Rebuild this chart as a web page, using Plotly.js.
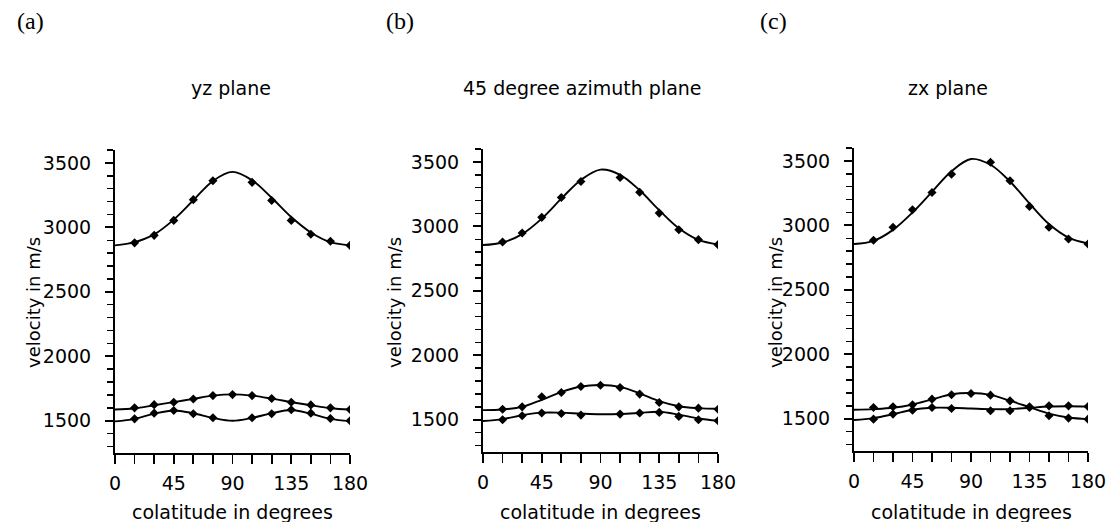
<!DOCTYPE html>
<html>
<head>
<meta charset="utf-8">
<script src="https://cdn.plot.ly/plotly-3.0.1.min.js"></script>
<style>html,body{margin:0;padding:0;background:#fff;}#chart{width:1111px;height:522px;}</style>
</head>
<body>
<div id="chart"></div>
<script>
// colatitude in degrees
const colatitude = [0, 15, 30, 45, 60, 75, 90, 105, 120, 135, 150, 165, 180];

// Panel (a) yz plane: model curves and measured points (m/s)
const a_qP_curve  = [2860, 2885, 2945, 3060, 3210, 3360, 3430, 3365, 3230, 3080, 2960, 2885, 2860];
const a_qP_pts    = [null, 2880, 2938, 3054, 3215, 3361, null, 3349, 3208, 3054, 2946, 2892, 2860];
const a_S1_curve  = [1587, 1595, 1620, 1645, 1670, 1695, 1705, 1695, 1672, 1645, 1620, 1597, 1587];
const a_S1_pts    = [null, 1600, 1625, 1644, 1669, 1695, 1703, 1695, 1673, 1644, 1623, 1600, 1587];
const a_S2_curve  = [1495, 1515, 1555, 1580, 1558, 1522, 1500, 1522, 1558, 1583, 1555, 1515, 1497];
const a_S2_pts    = [null, 1515, 1559, 1580, 1554, 1523, null, 1523, 1554, 1585, 1559, 1518, 1500];

// Panel (b) 45 degree azimuth plane
const b_qP_curve  = [2855, 2875, 2940, 3060, 3215, 3360, 3440, 3400, 3280, 3125, 2985, 2895, 2860];
const b_qP_pts    = [null, 2879, 2948, 3070, 3224, 3348, null, 3379, 3265, 3103, 2974, 2897, 2858];
const b_S1_curve  = [1575, 1580, 1600, 1655, 1715, 1758, 1770, 1755, 1705, 1645, 1605, 1590, 1585];
const b_S1_pts    = [null, 1582, 1600, 1678, 1711, 1758, 1768, 1750, 1699, 1634, 1600, 1590, 1582];
const b_S2_curve  = [1490, 1505, 1535, 1555, 1555, 1548, 1543, 1545, 1553, 1562, 1540, 1510, 1492];
const b_S2_pts    = [null, 1500, 1531, 1552, 1549, 1536, null, 1544, 1552, 1557, 1526, 1500, 1492];

// Panel (c) zx plane
const c_qP_curve  = [2855, 2880, 2965, 3100, 3260, 3420, 3515, 3470, 3340, 3170, 3010, 2905, 2860];
const c_qP_pts    = [null, 2884, 2985, 3121, 3255, 3397, null, 3490, 3346, 3147, 2985, 2894, 2856];
const c_S1_curve  = [1570, 1575, 1585, 1610, 1650, 1690, 1700, 1685, 1640, 1590, 1540, 1510, 1497];
const c_S1_pts    = [null, 1587, 1593, 1609, 1652, 1686, 1696, 1683, 1639, 1593, 1523, 1505, 1497];
const c_S2_curve  = [1490, 1505, 1535, 1570, 1585, 1585, 1580, 1575, 1575, 1585, 1595, 1597, 1595];
const c_S2_pts    = [null, 1497, 1536, 1567, 1587, 1580, null, 1562, 1562, 1587, 1600, 1600, 1595];

const panelTitles = ["yz plane", "45 degree azimuth plane", "zx plane"];
const panelLabels = ["(a)", "(b)", "(c)"];
const yTitle = "velocity in m/s";
const xTitle = "colatitude in degrees";
const xTickVals = [0, 45, 90, 135, 180];
const xTickText = ["0", "45", "90", "135", "180"];
const xMinorVals = [15, 30, 60, 75, 105, 120, 150, 165];
const yTickVals = [1500, 2000, 2500, 3000, 3500];

const panels = [
  [a_qP_curve, a_qP_pts, a_S1_curve, a_S1_pts, a_S2_curve, a_S2_pts],
  [b_qP_curve, b_qP_pts, b_S1_curve, b_S1_pts, b_S2_curve, b_S2_pts],
  [c_qP_curve, c_qP_pts, c_S1_curve, c_S1_pts, c_S2_curve, c_S2_pts]
];

const W = 1111, H = 522;
const xPix = [[115, 350], [483, 718], [854, 1088]];
const yPix = [[150, 453], [149, 452], [148, 451]];
const yTitleX = [33, 394, 775];
const titleX = [231, 582, 948];
const labelX = [15, 384, 758];

const traces = [];
panels.forEach((p, i) => {
  const xa = i === 0 ? 'x' : 'x' + (i + 1);
  const ya = i === 0 ? 'y' : 'y' + (i + 1);
  for (let k = 0; k < 3; k++) {
    traces.push({
      x: colatitude, y: p[2 * k], xaxis: xa, yaxis: ya, type: 'scatter', mode: 'lines',
      line: {color: '#000', width: 1.9, shape: 'spline', smoothing: 1}, hoverinfo: 'skip', showlegend: false
    });
    traces.push({
      x: colatitude, y: p[2 * k + 1], xaxis: xa, yaxis: ya, type: 'scatter', mode: 'markers',
      marker: {symbol: 'diamond', size: 7, color: '#000'}, showlegend: false
    });
  }
});

const tickFont = {family: 'DejaVu Sans', size: 19, color: '#000'};
const layout = {
  width: W, height: H, margin: {l: 0, r: 0, t: 0, b: 0},
  paper_bgcolor: '#fff', plot_bgcolor: '#fff', showlegend: false,
  annotations: [], font: {family: 'DejaVu Sans', color: '#000'}
};

for (let i = 0; i < 3; i++) {
  const sx = i === 0 ? '' : String(i + 1);
  layout['xaxis' + sx] = {
    domain: [xPix[i][0] / W, xPix[i][1] / W], anchor: 'y' + sx,
    range: [0, 180], tickvals: xTickVals, ticktext: xTickText,
    ticks: 'outside', ticklen: 9, tickwidth: 1.8, tickcolor: '#000',
    minor: {tickvals: xMinorVals, ticks: 'outside', ticklen: 9, tickwidth: 1.8, tickcolor: '#000'},
    showline: true, linecolor: '#000', linewidth: 2, showgrid: false, zeroline: false,
    tickfont: tickFont, ticklabelstandoff: 3
  };
  layout['yaxis' + sx] = {
    domain: [1 - yPix[i][1] / H, 1 - yPix[i][0] / H], anchor: 'x' + sx,
    range: [1250, 3600], tickvals: yTickVals,
    ticks: 'outside', ticklen: 8, tickwidth: 1.8, tickcolor: '#000',
    minor: {dtick: 100, ticks: 'outside', ticklen: 6, tickwidth: 1.5, tickcolor: '#000'},
    showline: true, linecolor: '#000', linewidth: 2, showgrid: false, zeroline: false,
    tickfont: tickFont, ticklabelstandoff: 10
  };
  layout.annotations.push({
    text: panelTitles[i], xref: 'paper', yref: 'paper', x: titleX[i] / W, y: 1 - 88 / H,
    xanchor: 'center', yanchor: 'middle', showarrow: false,
    font: {family: 'DejaVu Sans', size: 19, color: '#000'}
  });
  layout.annotations.push({
    text: panelLabels[i], xref: 'paper', yref: 'paper', x: labelX[i] / W, y: 1 - 21 / H,
    xanchor: 'left', yanchor: 'middle', showarrow: false,
    font: {family: 'Liberation Serif', size: 24, color: '#000'}
  });
  layout.annotations.push({
    text: yTitle, xref: 'paper', yref: 'paper', x: yTitleX[i] / W, y: 1 - 303 / H,
    xanchor: 'center', yanchor: 'middle', textangle: -90, showarrow: false,
    font: {family: 'DejaVu Sans', size: 18, color: '#000'}
  });
  layout.annotations.push({
    text: xTitle, xref: 'paper', yref: 'paper', x: ((xPix[i][0] + xPix[i][1]) / 2) / W, y: 1 - 512 / H,
    xanchor: 'center', yanchor: 'middle', showarrow: false,
    font: {family: 'DejaVu Sans', size: 19, color: '#000'}
  });
}

Plotly.newPlot('chart', traces, layout, {displayModeBar: false, staticPlot: true});
</script>
</body>
</html>
